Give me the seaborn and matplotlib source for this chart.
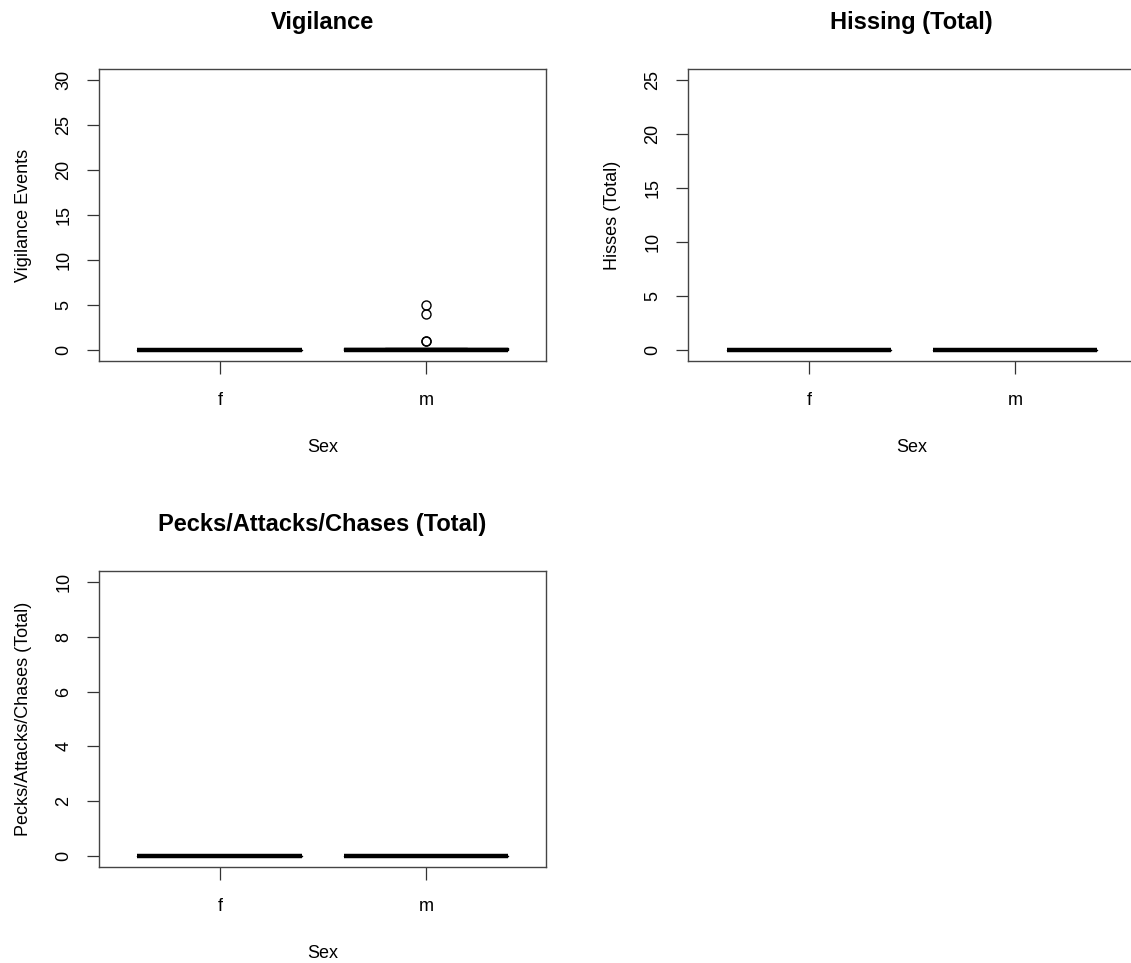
import matplotlib
matplotlib.use("Agg")
import matplotlib.pyplot as plt
import pandas as pd
import seaborn as sns

# counts per bird, by sex
sex_f = ["f"] * 15
sex_m = ["m"] * 16
vigilance_f = [0] * 15
vigilance_m = [0] * 12 + [1, 1, 4, 5]
hissing_f = [0] * 15
hissing_m = [0] * 16
pecks_f = [0] * 15
pecks_m = [0] * 16

sns.set_style("white")
plt.rcParams["font.family"] = ["Liberation Sans", "DejaVu Sans"]
plt.rcParams["text.color"] = "black"
plt.rcParams["axes.labelcolor"] = "black"

df = pd.DataFrame({
    "Sex": sex_f + sex_m,
    "vig": vigilance_f + vigilance_m,
    "hiss": hissing_f + hissing_m,
    "peck": pecks_f + pecks_m,
})

panels = [
    ("vig", "Vigilance", "Vigilance Events", [0, 5, 10, 15, 20, 25, 30], (-1.2, 31.2),
     [0.0875, 0.6251, 0.3953, 0.3032]),
    ("hiss", "Hissing (Total)", "Hisses (Total)", [0, 5, 10, 15, 20, 25], (-1.0, 26.0),
     [0.6083, 0.6251, 0.3953, 0.3032]),
    ("peck", "Pecks/Attacks/Chases (Total)", "Pecks/Attacks/Chases (Total)",
     [0, 2, 4, 6, 8, 10], (-0.4, 10.4), [0.0875, 0.0997, 0.3953, 0.3074]),
]

fig = plt.figure(figsize=(11.31, 9.63), dpi=100)
for col, title, ylab, yticks, ylim, rect in panels:
    ax = fig.add_axes(rect)
    sns.boxplot(data=df, x="Sex", y=col, order=["f", "m"], ax=ax, fill=False,
                color="black", width=0.8, linewidth=1, whis=1.5,
                medianprops=dict(linewidth=3.2, color="black"),
                flierprops=dict(marker="o", markersize=6.5, markerfacecolor="none",
                                markeredgecolor="black", markeredgewidth=1.0))
    ax.set_xlim(-0.587, 1.583)
    ax.set_ylim(*ylim)
    ax.set_yticks(yticks)
    ax.set_yticklabels([str(t) for t in yticks], rotation=90, va="center")
    ax.tick_params(axis="both", direction="out", length=9, width=0.9, colors="#333333",
                   labelcolor="black", labelsize=13, pad=10, left=True, bottom=True)
    ax.tick_params(axis="x", pad=13)
    ax.set_title(title, fontsize=17, fontweight="bold", pad=29, color="black")
    ax.set_xlabel("Sex", fontsize=13, labelpad=22)
    ax.set_ylabel(ylab, fontsize=13, labelpad=17)
    for s in ax.spines.values():
        s.set_visible(True)
        s.set_color("#444444")
        s.set_linewidth(1.0)

fig.savefig("out.png", dpi=100, facecolor="white")
